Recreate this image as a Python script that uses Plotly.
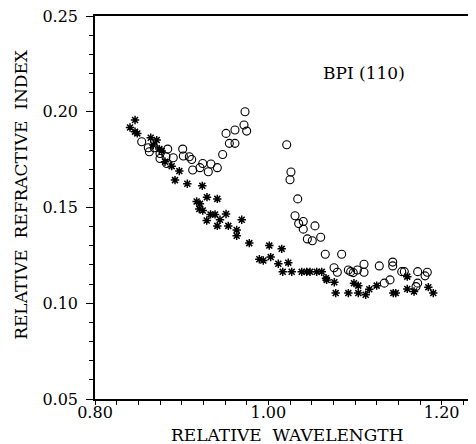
import plotly.graph_objects as go

# BPI (110) - relative refractive index vs relative wavelength

# asterisk series
star_x = [0.8404, 0.8462, 0.8462, 0.8488, 0.8643, 0.8712, 0.8673, 0.8742, 0.8770, 0.8808,
          0.8885, 0.8973, 0.8923, 0.9065, 0.9238, 0.9173, 0.9211, 0.9292, 0.9411, 0.9203,
          0.9243, 0.9333, 0.9385, 0.9512, 0.9289, 0.9442, 0.9693, 0.9411, 0.9538, 0.9635,
          0.9635, 0.9780, 0.9896, 0.9942, 1.0011, 1.0154, 1.0027, 1.0115, 1.0230, 1.0166,
          1.0270, 1.0385, 1.0443, 1.0481, 1.0558, 1.0616, 1.0665, 1.0673, 1.0761, 1.0988,
          1.1038, 1.0777, 1.0923, 1.1038, 1.1123, 1.1165, 1.1250, 1.1442, 1.1470, 1.1603,
          1.1603, 1.1681, 1.1846, 1.1903]
star_y = [0.1918, 0.1957, 0.1896, 0.1887, 0.1864, 0.1852, 0.1826, 0.1805, 0.1795, 0.1739,
          0.1716, 0.1690, 0.1643, 0.1624, 0.1613, 0.1531, 0.1519, 0.1554, 0.1545, 0.1492,
          0.1484, 0.1464, 0.1464, 0.1466, 0.1432, 0.1436, 0.1436, 0.1404, 0.1404, 0.1383,
          0.1352, 0.1314, 0.1230, 0.1223, 0.1301, 0.1284, 0.1241, 0.1206, 0.1212, 0.1164,
          0.1164, 0.1164, 0.1164, 0.1164, 0.1164, 0.1164, 0.1131, 0.1122, 0.1110, 0.1105,
          0.1092, 0.1053, 0.1053, 0.1053, 0.1044, 0.1073, 0.1092, 0.1053, 0.1053, 0.1139,
          0.1075, 0.1061, 0.1084, 0.1053]

# open circle series
circ_x = [0.8539, 0.8615, 0.8627, 0.8684, 0.8750, 0.8839, 0.8819, 0.8750, 0.8903, 0.8827,
          0.9012, 0.9019, 0.9088, 0.9116, 0.9127, 0.9211, 0.9243, 0.9307, 0.9338, 0.9411,
          0.9473, 0.9512, 0.9550, 0.9615, 0.9615, 0.9719, 0.9750, 0.9731, 1.0212, 1.0261,
          1.0250, 1.0339, 1.0308, 1.0350, 1.0403, 1.0403, 1.0538, 1.0450, 1.0507, 1.0604,
          1.0657, 1.0846, 1.0758, 1.0796, 1.0923, 1.0950, 1.0980, 1.1027, 1.1104, 1.1104,
          1.1280, 1.1435, 1.1435, 1.1539, 1.1569, 1.1723, 1.1808, 1.1834, 1.1338, 1.1404,
          1.1723, 1.1704]
circ_y = [0.1843, 0.1812, 0.1791, 0.1812, 0.1782, 0.1805, 0.1765, 0.1756, 0.1760, 0.1730,
          0.1805, 0.1769, 0.1765, 0.1751, 0.1696, 0.1708, 0.1730, 0.1687, 0.1727, 0.1708,
          0.1777, 0.1887, 0.1835, 0.1835, 0.1905, 0.1931, 0.1899, 0.2000, 0.1828, 0.1685,
          0.1645, 0.1545, 0.1457, 0.1416, 0.1427, 0.1387, 0.1404, 0.1336, 0.1326, 0.1345,
          0.1256, 0.1256, 0.1185, 0.1162, 0.1174, 0.1165, 0.1160, 0.1174, 0.1204, 0.1162,
          0.1195, 0.1215, 0.1195, 0.1165, 0.1165, 0.1165, 0.1143, 0.1162, 0.1105, 0.1122,
          0.1105, 0.1087]

fnt = dict(family='DejaVu Serif', size=17, color='black')
tick_fnt = dict(family='DejaVu Serif', size=16, color='black')

fig = go.Figure()
fig.add_trace(go.Scatter(x=star_x, y=star_y, mode='markers', showlegend=False,
                         marker=dict(symbol='asterisk-open', size=7, color='black',
                                     line=dict(color='black', width=1.5))))
fig.add_trace(go.Scatter(x=circ_x, y=circ_y, mode='markers', showlegend=False,
                         marker=dict(symbol='circle-open', size=8, color='black',
                                     line=dict(color='black', width=1.1))))

fig.add_annotation(x=1.110, y=0.2204, text='BPI (110)', showarrow=False, font=fnt)
# axis titles as annotations so they sit where the original has them
fig.add_annotation(xref='paper', yref='paper', x=0.504, y=0, yshift=-24, yanchor='top',
                   text='RELATIVE  WAVELENGTH', showarrow=False, font=fnt)
fig.add_annotation(xref='paper', yref='paper', x=0, xshift=-74, y=0.533, xanchor='center',
                   textangle=-90, text='RELATIVE  REFRACTIVE  INDEX', showarrow=False, font=fnt)

# page body has an 8px margin, so the margins are shifted to compensate
fig.update_layout(width=476, height=444, margin=dict(l=87, r=8, t=8, b=53),
                  plot_bgcolor='white', paper_bgcolor='white', font=fnt)

fig.update_xaxes(range=[0.80, 1.2396], tick0=0.80, dtick=0.20, tickformat='.2f',
                 tickfont=tick_fnt, ticklabelstandoff=-6, ticklabeloverflow='allow',
                 showline=True, linecolor='black', linewidth=1.5, mirror=True,
                 ticks='outside', ticklen=4, tickcolor='black', showgrid=False, zeroline=False,
                 minor=dict(dtick=0.025, ticks='outside', ticklen=4, tickcolor='black', showgrid=False),
                 automargin=False)
fig.update_yaxes(range=[0.05, 0.25], tick0=0.05, dtick=0.05, tickformat='.2f',
                 tickfont=tick_fnt, ticklabelstandoff=5, ticklabeloverflow='allow',
                 showline=True, linecolor='black', linewidth=1.5,
                 ticks='outside', ticklen=7, tickcolor='black', showgrid=False, zeroline=False,
                 minor=dict(dtick=0.01, ticks='outside', ticklen=4, tickcolor='black', showgrid=False),
                 automargin=False)

fig.write_html("out.html")
